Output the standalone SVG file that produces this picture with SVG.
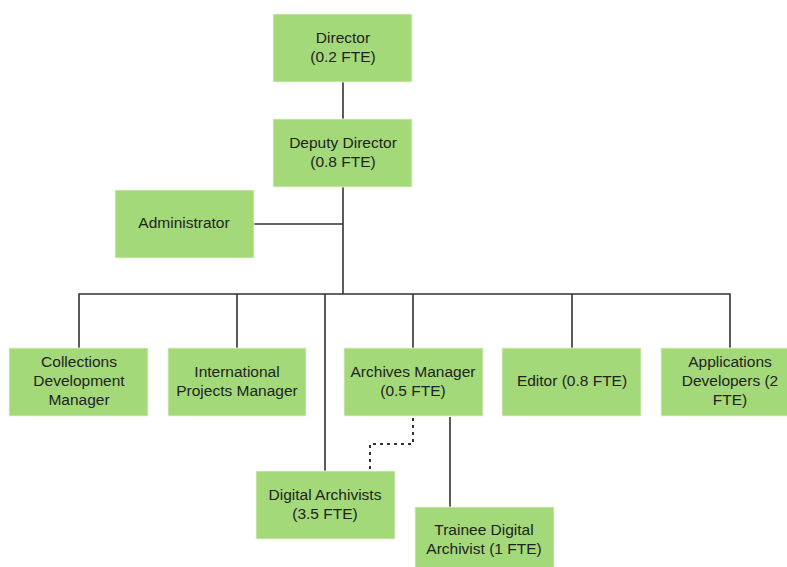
<svg xmlns="http://www.w3.org/2000/svg" width="787" height="567" viewBox="0 0 787 567">
<style>
.box{fill:#a4d979;stroke:#e8f5dc;stroke-width:0.8}
.t{font-family:"Liberation Sans",Arial,sans-serif;font-size:15.5px;fill:#222;text-anchor:middle}
.c{fill:none;stroke:#333;stroke-width:1.6}
.d{fill:none;stroke:#333;stroke-width:2;stroke-dasharray:3 4}
</style>
<rect width="787" height="567" fill="#fff"/>
<g id="connectors">
<path class="c" d="M343 82V119"/>
<path class="c" d="M343 187V294"/>
<path class="c" d="M254 224H343"/>
<path class="c" d="M79 348V294H730V348"/>
<path class="c" d="M237 294V348"/>
<path class="c" d="M413 294V348"/>
<path class="c" d="M572 294V348"/>
<path class="c" d="M325 294V471"/>
<path class="c" d="M450 417V507"/>
<path class="d" d="M413 418V444H370V471"/>
</g>
<g id="director"><rect class="box" x="273" y="14" width="139" height="68"/><text class="t" x="343" y="43">Director</text><text class="t" x="343" y="62">(0.2 FTE)</text></g>
<g id="deputy"><rect class="box" x="273" y="119" width="139" height="68"/><text class="t" x="343" y="148">Deputy Director</text><text class="t" x="343" y="167">(0.8 FTE)</text></g>
<g id="administrator"><rect class="box" x="115" y="190" width="139" height="68"/><text class="t" x="184" y="228">Administrator</text></g>
<g id="collections"><rect class="box" x="9" y="348" width="139" height="68"/><text class="t" x="79" y="367">Collections</text><text class="t" x="79" y="386">Development</text><text class="t" x="79" y="405">Manager</text></g>
<g id="international"><rect class="box" x="168" y="348" width="138" height="68"/><text class="t" x="237" y="377">International</text><text class="t" x="237" y="396">Projects Manager</text></g>
<g id="archives"><rect class="box" x="344" y="348" width="139" height="68"/><text class="t" x="413" y="377">Archives Manager</text><text class="t" x="413" y="396">(0.5 FTE)</text></g>
<g id="editor"><rect class="box" x="502" y="348" width="139" height="68"/><text class="t" x="572" y="386">Editor (0.8 FTE)</text></g>
<g id="applications"><rect class="box" x="661" y="348" width="139" height="68"/><text class="t" x="730" y="367">Applications</text><text class="t" x="730" y="386">Developers (2</text><text class="t" x="730" y="405">FTE)</text></g>
<g id="digital"><rect class="box" x="256" y="471" width="139" height="68"/><text class="t" x="325" y="500">Digital Archivists</text><text class="t" x="325" y="519">(3.5 FTE)</text></g>
<g id="trainee"><rect class="box" x="415" y="507" width="139" height="68"/><text class="t" x="484" y="535">Trainee Digital</text><text class="t" x="484" y="554">Archivist (1 FTE)</text></g>
</svg>
